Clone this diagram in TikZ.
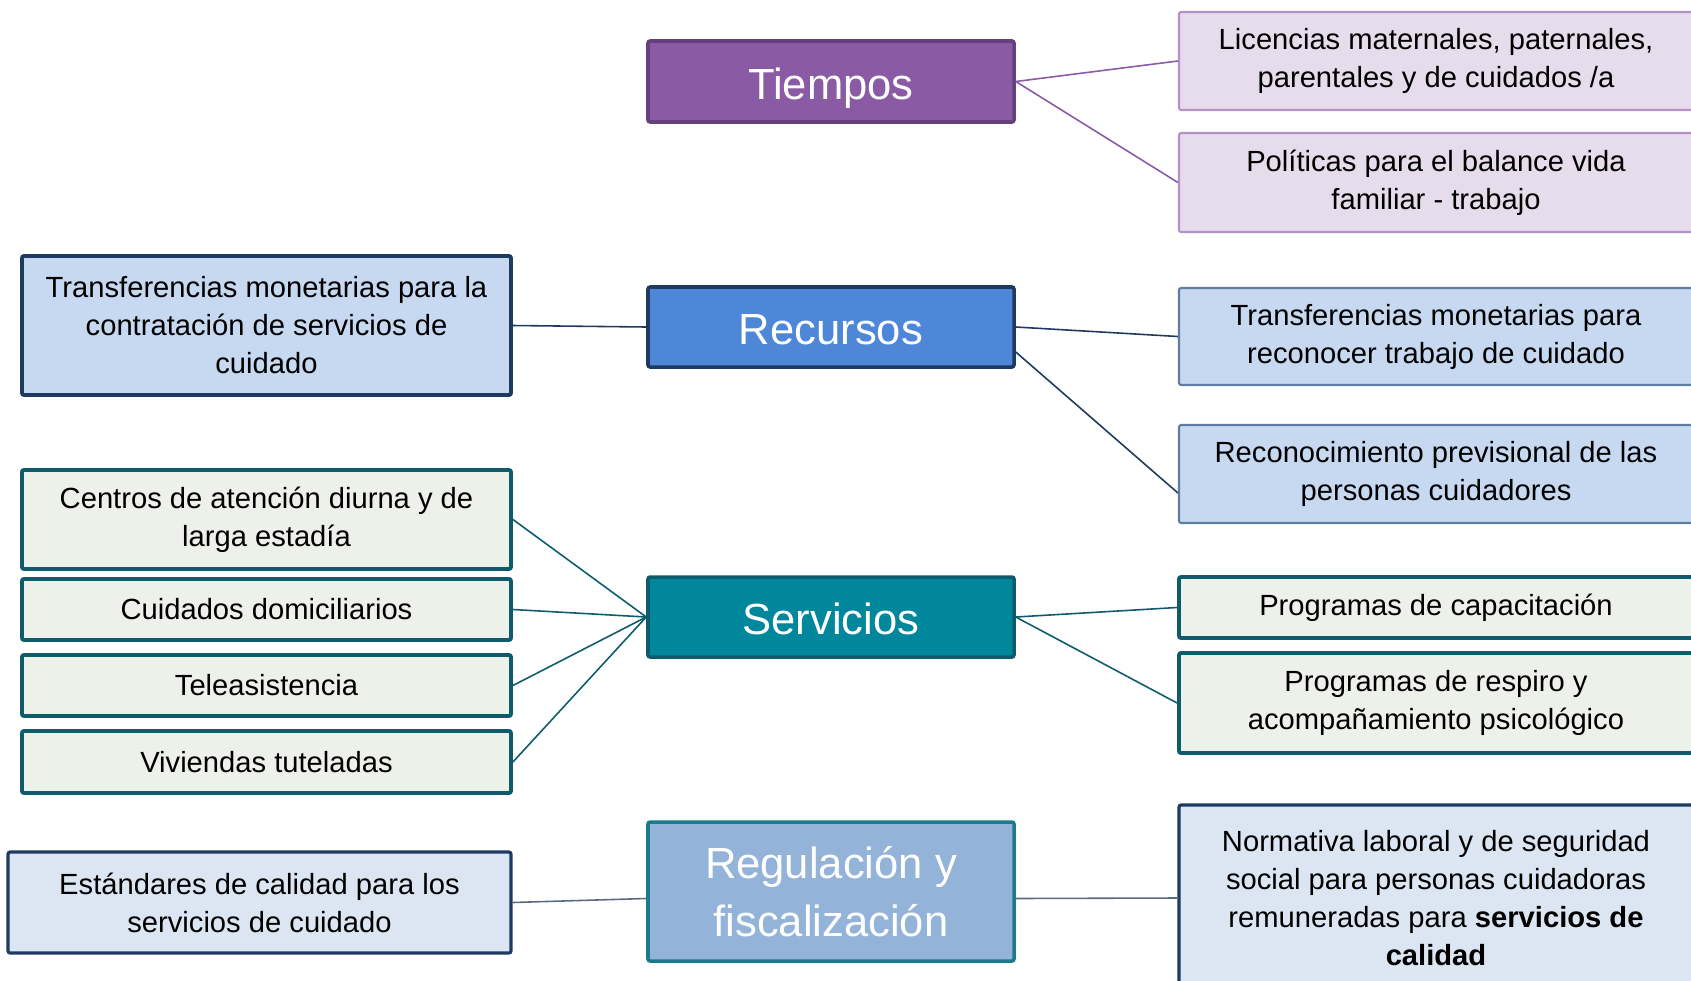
\documentclass[tikz,border=0pt]{standalone}
\usepackage{fontspec}
\setmainfont{Liberation Sans}

\definecolor{moradofill}{HTML}{8A5AA4}
\definecolor{moradoborde}{HTML}{66407E}
\definecolor{lilafill}{HTML}{E7DCEB}
\definecolor{lilaborde}{HTML}{B691C6}
\definecolor{azulfill}{HTML}{4F87D8}
\definecolor{azulborde}{HTML}{1F3A60}
\definecolor{celestefill}{HTML}{C6D9F1}
\definecolor{celesteborde}{HTML}{5F7DA3}
\definecolor{tealfill}{HTML}{00879B}
\definecolor{tealborde}{HTML}{0E5C6B}
\definecolor{grisfill}{HTML}{EEF0EA}
\definecolor{regfill}{HTML}{94B3D9}
\definecolor{regborde}{HTML}{1C7B8B}
\definecolor{palidofill}{HTML}{DCE6F2}
\definecolor{lineagris}{HTML}{5A6B80}

\begin{document}
\begin{tikzpicture}[
	caja/.style={draw, rounded corners=0.6pt, align=center, inner sep=0pt, font=\fontsize{8.3}{10.8}\selectfont},
	titulo/.style={caja, text=white, minimum width=3.66cm, line width=1pt, font=\fontsize{12.4}{16.5}\selectfont},
	unalinea/.style={text height=10pt, text depth=0pt},
	izq/.style={caja, minimum width=4.89cm},
	der/.style={caja, minimum width=5.14cm},
	hojatiempo/.style={der, fill=lilafill, draw=lilaborde, line width=0.6pt},
	hojarecurso/.style={fill=celestefill, draw=azulborde, line width=1.1pt},
	hojaservicio/.style={fill=grisfill, draw=tealborde, line width=1.1pt},
	hojaregula/.style={fill=palidofill, draw=azulborde, line width=0.9pt},
	rama/.style={line width=0.45pt}
]
			\clip (0,0) rectangle (16.91,9.80);
			
			% ramas centrales
			\node[titulo, unalinea, fill=moradofill, draw=moradoborde, minimum height=0.81cm] (tiempos) at (8.31,8.985) {Tiempos};
			\node[titulo, unalinea, fill=azulfill, draw=azulborde, minimum height=0.80cm] (recursos) at (8.31,6.53) {Recursos};
			\node[titulo, unalinea, fill=tealfill, draw=tealborde, minimum height=0.80cm] (servicios) at (8.31,3.63) {Servicios};
			\node[titulo, fill=regfill, draw=regborde, minimum height=1.39cm] (regulacion) at (8.31,0.885) {Regulación y\\fiscalización};
			
			% tiempos
			\node[hojatiempo, minimum height=0.98cm] (licencias) at (14.36,9.19) {Licencias maternales, paternales,\\parentales y de cuidados /a};
			\node[hojatiempo, minimum height=0.99cm] (balance) at (14.36,7.975) {Políticas para el balance vida\\familiar - trabajo};
			
			% recursos
			\node[izq, hojarecurso, minimum height=1.39cm] (contratacion) at (2.665,6.545) {Transferencias monetarias para la\\contratación de servicios de\\cuidado};
			\node[der, hojarecurso, draw=celesteborde, line width=0.6pt, minimum height=0.97cm] (reconocer) at (14.36,6.435) {Transferencias monetarias para\\reconocer trabajo de cuidado};
			\node[der, hojarecurso, draw=celesteborde, line width=0.6pt, minimum height=0.98cm] (previsional) at (14.36,5.06) {Reconocimiento previsional de las\\personas cuidadores};
			
			% servicios
			\node[izq, hojaservicio, minimum height=0.99cm] (centros) at (2.665,4.605) {Centros de atención diurna y de\\larga estadía};
			\node[izq, hojaservicio, minimum height=0.61cm] (domicilio) at (2.665,3.705) {Cuidados domiciliarios};
			\node[izq, hojaservicio, minimum height=0.61cm] (teleasist) at (2.665,2.945) {Teleasistencia};
			\node[izq, hojaservicio, minimum height=0.62cm] (viviendas) at (2.665,2.18) {Viviendas tuteladas};
			\node[der, hojaservicio, minimum height=0.61cm] (capacitacion) at (14.36,3.725) {Programas de capacitación};
			\node[der, hojaservicio, minimum height=1.00cm] (respiro) at (14.36,2.77) {Programas de respiro y\\acompañamiento psicológico};
			
			% regulacion
			\node[caja, hojaregula, minimum width=5.03cm, minimum height=1.01cm] (estandares) at (2.595,0.775) {Estándares de calidad para los\\servicios de cuidado};
			\node[der, hojaregula, minimum height=1.86cm] (normativa) at (14.36,0.82) {Normativa laboral y de seguridad\\social para personas cuidadoras\\remuneradas para \textbf{servicios de}\\\textbf{calidad}};
			
			% conectores
			\draw[rama, moradofill] (tiempos.east) -- (licencias.west);
			\draw[rama, moradofill] (tiempos.east) -- (balance.west);
			\draw[rama, azulborde] (contratacion.east) -- (recursos.west);
			\draw[rama, azulborde] (recursos.east) -- (reconocer.west);
			\draw[rama, azulborde] ([yshift=-2.5mm]recursos.east) -- ([yshift=-1.9mm]previsional.west);
			\foreach \hoja in {centros, domicilio, teleasist, viviendas}
				\draw[rama, tealborde] (\hoja.east) -- (servicios.west);
			\draw[rama, tealborde] (servicios.east) -- (capacitacion.west);
			\draw[rama, tealborde] (servicios.east) -- (respiro.west);
			\draw[rama, lineagris] (estandares.east) -- ([yshift=-0.7mm]regulacion.west);
			\draw[rama, lineagris] ([yshift=-0.7mm]regulacion.east) -- (normativa.west);
		\end{tikzpicture}
\end{document}
